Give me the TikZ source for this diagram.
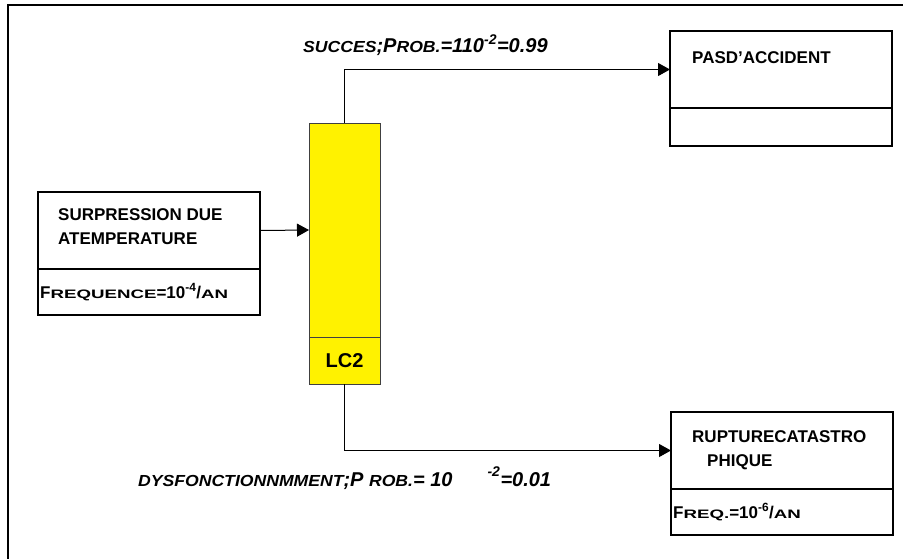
\documentclass[tikz,border=0pt]{standalone}
\usepackage{fontspec}
\setmainfont{Liberation Sans}
\usetikzlibrary{positioning, arrows.meta}

\newcommand{\pc}[1]{\scalebox{1.1}[0.72]{#1}}
\newcommand{\pcit}[1]{\scalebox{0.88}[0.8]{#1}}

\begin{document}
\begin{tikzpicture}[
  x=1pt, y=-1pt,
  font=\bfseries\fontsize{17}{24}\selectfont,
  cell/.style={draw, line width=1.3pt, outer sep=0pt, inner sep=0pt,
    minimum width=222pt},
  lc/.style={draw=black!75, line width=1pt, fill=yellow, outer sep=0pt,
    inner sep=0pt, minimum width=71pt},
  txt/.style={inner sep=0pt, align=left, anchor=west},
  lbl/.style={inner sep=0pt, anchor=west,
    font=\bfseries\itshape\fontsize{20}{24}\selectfont},
  arrow/.style={-{Triangle[length=12pt, width=13pt]}, line width=1pt},
]
  \useasboundingbox (0,0) rectangle (903,558);
  \draw[line width=1.3pt] (8,562) |- (907,5);

  % initiating event
  \node[cell, minimum height=77pt, anchor=north west] (surp) at (38,192) {};
  \node[cell, minimum height=46pt, below=0pt of surp] (freq) {};
  \node[txt] (surpt) at ([xshift=20pt, yshift=4pt]surp.west)
    {SURPRESSION DUE\\ATEMPERATURE};
  \node[txt] (freqt) at ([xshift=2pt]freq.west)
    {F\pc{REQUENCE}=10\textsuperscript{-4}/\pc{AN}};

  % safety barrier
  \node[lc, minimum height=214pt, anchor=north west] (yel) at (309,123) {};
  \node[lc, minimum height=47pt, below=0pt of yel,
    font=\bfseries\fontsize{20}{24}\selectfont] (lc) {LC2};

  % outcomes
  \node[cell, minimum height=77pt, anchor=north west] (pasd) at (670,31) {};
  \node[cell, minimum height=38pt, below=0pt of pasd] (pasdb) {};
  \node[txt] (pasdt) at ([xshift=22pt, yshift=12pt]pasd.west)
    {PASD\textquoteright ACCIDENT};

  \node[cell, minimum height=77pt, anchor=north west] (rupt) at (671,412) {};
  \node[cell, minimum height=46pt, below=0pt of rupt] (ruptb) {};
  \node[txt] (ruptt) at ([xshift=21pt]rupt.west)
    {RUPTURECATASTRO\\\hspace*{15pt}PHIQUE};
  \node[txt] (ruptf) at ([xshift=2pt]ruptb.west)
    {F\pc{REQ.}=10\textsuperscript{-6}/\pc{AN}};

  % branches
  \draw[arrow] (surp.east) -- (yel.west);
  \draw[arrow] (yel.north) |- (pasd.west);
  \draw[arrow] (lc.south) |- (rupt.west);

  \node[lbl] (succ) at (303,45)
    {\pcit{SUCCES};P\pcit{ROB.}=110\textsuperscript{-2}=0.99};
  \node[lbl] (dysf) at (138,478)
    {\pcit{DYSFONCTIONNMMENT};P \pcit{ROB.}= 10\hspace{35pt}\raisebox{3pt}{\textsuperscript{-2}}=0.01};
\end{tikzpicture}
\end{document}
